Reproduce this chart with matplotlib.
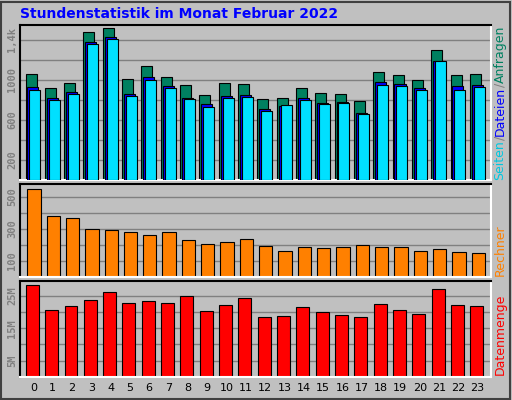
import matplotlib
matplotlib.use("Agg")
import matplotlib.pyplot as plt
import numpy as np

hours = list(range(24))
anfragen = [1060,920,970,1480,1520,1010,1140,1030,950,850,970,960,810,820,920,870,860,790,1080,1050,1000,1300,1050,1060]
dateien = [930,820,880,1380,1430,860,1030,943,820,760,840,850,710,740,820,770,783,670,980,960,920,1190,940,950]
seiten = [903,803,863,1363,1410,840,1003,923,810,730,820,830,690,750,803,760,770,657,953,943,903,1190,900,930]
rechner = [550,381,369,300,294,281,262,281,231,206,219,238,194,162,188,181,188,200,188,188,162,175,156,150]
datenmenge = [28.4,20.6,21.9,23.75,26.25,22.8,23.4,22.8,25.0,20.3,22.2,24.4,18.4,18.75,21.6,20.0,19.1,18.4,22.5,20.6,19.4,26.9,22.2,21.9]

W, H = 512, 400
fig = plt.figure(figsize=(W/100, H/100), dpi=100, facecolor='#c0c0c0')
fig.patches.append(plt.Rectangle((0.002, 0.002), 0.994, 0.994, transform=fig.transFigure,
                                 fill=False, edgecolor='#404040', lw=1.5))

def ax_at(x0, y0, x1, y1):
    return fig.add_axes([x0/W, 1-y1/H, (x1-x0)/W, (y1-y0)/H])

x = np.array(hours)
xlim = (-0.69, 23.67)
tickfont = dict(family='DejaVu Sans Mono', fontsize=7.5, fontweight='bold', color='#808080')

def style(ax, grid_step, ymax, ticks, labels):
    ax.set_facecolor('#c0c0c0')
    ax.set_xlim(*xlim)
    ax.set_ylim(0, ymax)
    for g in np.arange(grid_step, ymax, grid_step):
        ax.axhline(g, color='#808080', lw=1, zorder=0)
    ax.set_yticks(ticks)
    ax.set_yticklabels(labels, rotation=90, va='center', **tickfont)
    ax.tick_params(axis='y', length=0, pad=2)
    ax.set_xticks([])
    for s in ['top', 'left']:
        ax.spines[s].set_color('black')
    for s in ['bottom', 'right']:
        ax.spines[s].set_color('white')
    for s in ax.spines.values():
        s.set_linewidth(1.5)

ax1 = ax_at(20, 25, 490.6, 180)
style(ax1, 200, 1550, [200, 600, 1000, 1400], ['200', '600', '1000', '1,4k'])
bw = 0.57
ax1.bar(x-0.12, anfragen, bw, color='#008060', edgecolor='black', lw=0.8, zorder=2)
ax1.bar(x-0.02, dateien, bw, color='#0000ff', edgecolor='black', lw=0.8, zorder=3)
ax1.bar(x+0.08, seiten, bw, color='#00e0ff', edgecolor='black', lw=0.8, zorder=4)

ax2 = ax_at(20, 184, 490.6, 277)
style(ax2, 100, 580, [100, 300, 500], ['100', '300', '500'])
ax2.bar(x+0.03, rechner, 0.69, color='#ff8000', edgecolor='black', lw=0.8, zorder=2)

ax3 = ax_at(20, 281, 490.6, 377)
style(ax3, 5, 29.5, [5, 15, 25], ['5M', '15M', '25M'])
ax3.bar(x-0.05, datenmenge, 0.67, color='#ff0000', edgecolor='black', lw=0.8, zorder=2)
ax3.set_xticks(hours)
ax3.set_xticklabels([str(h) for h in hours], fontsize=8, color='black')
ax3.tick_params(axis='x', length=0, pad=4)

fig.text(20/W, 1-14/H, 'Stundenstatistik im Monat Februar 2022', color='#0000ff',
         fontsize=10, fontweight='bold', va='center', ha='left')

rx = 500/W
fs = 9
fig.canvas.draw()
renderer = fig.canvas.get_renderer()
y = 1-180/H
for txt, col in [('Seiten', '#00c8e0'), ('/', '#808080'), ('Dateien', '#0000ff'),
                 ('/', '#808080'), ('Anfragen', '#008060')]:
    t = fig.text(rx, y, txt, rotation=90, color=col, fontsize=fs, ha='center', va='bottom')
    bb = t.get_window_extent(renderer)
    y += bb.height / H
fig.text(rx, 1-276/H, 'Rechner', rotation=90, color='#ff8000', fontsize=fs, ha='center', va='bottom')
fig.text(rx, 1-375/H, 'Datenmenge', rotation=90, color='#ff0000', fontsize=fs, ha='center', va='bottom')

fig.savefig('out.png', dpi=100, facecolor=fig.get_facecolor())
